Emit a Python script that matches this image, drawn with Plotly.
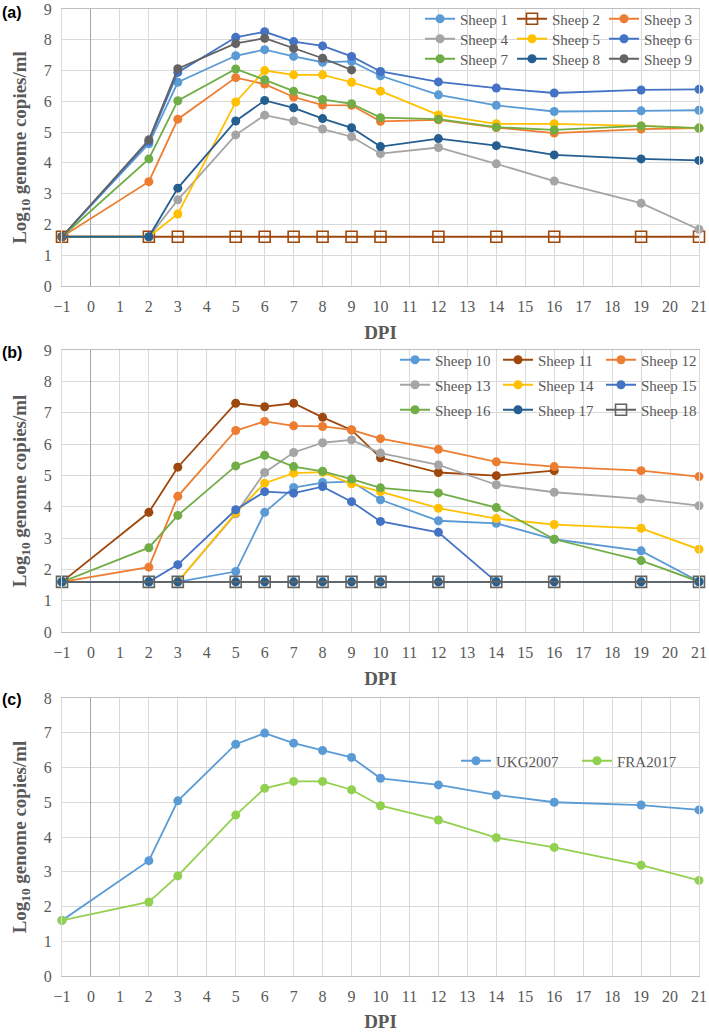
import plotly.graph_objects as go

# ---------------- data ----------------
DPI = [-1, 2, 3, 5, 6, 7, 8, 9, 10, 12, 14, 16, 19, 21]
x_ticks = list(range(-1, 22))
x_ticklabels = ["\u22121"] + [str(v) for v in range(0, 22)]

# panel (a)
sheep1 = [1.6, 4.62, 6.62, 7.48, 7.68, 7.46, 7.27, 7.30, 6.83, 6.21, 5.87, 5.67, 5.69, 5.71]
sheep2 = [1.6, 1.6, 1.6, 1.6, 1.6, 1.6, 1.6, 1.6, 1.6, 1.6, 1.6, 1.6, 1.6, 1.6]
sheep3 = [1.6, 3.39, 5.42, 6.77, 6.56, 6.14, 5.88, 5.87, 5.35, 5.40, 5.15, 4.97, 5.10, 5.13]
sheep4 = [1.6, 1.6, 2.80, 4.91, 5.55, 5.36, 5.10, 4.85, 4.30, 4.50, 3.97, 3.41, 2.69, 1.84]
sheep5 = [1.6, 1.6, 2.34, 5.98, 7.00, 6.86, 6.86, 6.62, 6.33, 5.56, 5.27, 5.27, 5.20, 5.13]
sheep6 = [1.6, 4.70, 6.94, 8.08, 8.26, 7.94, 7.80, 7.46, 6.97, 6.63, 6.43, 6.27, 6.37, 6.39]
sheep7 = [1.6, 4.13, 6.02, 7.05, 6.70, 6.33, 6.06, 5.92, 5.47, 5.42, 5.16, 5.07, 5.20, 5.13]
sheep8 = [1.6, 1.6, 3.18, 5.36, 6.03, 5.79, 5.44, 5.14, 4.53, 4.79, 4.56, 4.26, 4.13, 4.08]
sheep9 = [1.6, 4.75, 7.06, 7.88, 8.05, 7.72, 7.40, 7.02]

# panel (b)
sheep10 = [1.6, 1.6, 1.6, 1.93, 3.82, 4.61, 4.77, 4.80, 4.22, 3.55, 3.47, 2.96, 2.59, 1.61]
sheep11 = [1.6, 3.82, 5.26, 7.30, 7.19, 7.30, 6.85, 6.45, 5.56, 5.09, 4.99, 5.15]
sheep12 = [1.6, 2.07, 4.33, 6.43, 6.72, 6.58, 6.56, 6.45, 6.17, 5.83, 5.43, 5.28, 5.15, 4.96]
sheep13 = [1.6, 1.6, 1.6, 3.77, 5.09, 5.73, 6.04, 6.13, 5.71, 5.33, 4.70, 4.46, 4.25, 4.03]
sheep14 = [1.6, 1.6, 1.6, 3.80, 4.75, 5.07, 5.10, 4.73, 4.48, 3.95, 3.62, 3.43, 3.31, 2.64]
sheep15 = [1.6, 1.6, 2.15, 3.90, 4.48, 4.43, 4.64, 4.16, 3.53, 3.18, 1.6]
sheep16 = [1.6, 2.69, 3.72, 5.30, 5.64, 5.28, 5.13, 4.88, 4.60, 4.44, 3.97, 2.96, 2.28, 1.61]
sheep17 = [1.6, 1.6, 1.6, 1.6, 1.6, 1.6, 1.6, 1.6, 1.6, 1.6, 1.6, 1.6, 1.6, 1.6]
sheep18 = [1.6, 1.6, 1.6, 1.6, 1.6, 1.6, 1.6, 1.6, 1.6, 1.6, 1.6, 1.6, 1.6, 1.6]

# panel (c)
ukg2007 = [1.6, 3.32, 5.04, 6.67, 6.99, 6.70, 6.49, 6.29, 5.69, 5.50, 5.21, 5.00, 4.92, 4.78]
fra2017 = [1.6, 2.13, 2.88, 4.63, 5.40, 5.60, 5.60, 5.36, 4.90, 4.49, 3.98, 3.70, 3.19, 2.75]

# ---------------- styling ----------------
W, H = 709, 1032
ML, MR, MT, MB = 62, 10, 9, 56
PW = W - ML - MR
PH = H - MT - MB

def py(pix):  # pixel y (from top) -> paper y
    return (H - MB - pix) / PH

def px(pix):  # pixel x -> paper x
    return (pix - ML) / PW

SERIF = "Liberation Serif"
GRAY_TXT = "#595959"
GRID = "#D9D9D9"

fig = go.Figure()

def add(name, y, color, xaxis, yaxis, legend, square=False):
    xs = DPI[:len(y)]
    if square:
        marker = dict(symbol="square-open", size=11, color=color, line=dict(width=1.6, color=color))
    else:
        marker = dict(symbol="circle", size=9, color=color)
    fig.add_trace(go.Scatter(
        x=xs, y=y, name=name, mode="lines+markers",
        line=dict(color=color, width=1.8), marker=marker,
        xaxis=xaxis, yaxis=yaxis, legend=legend, cliponaxis=False,
    ))

# panel (a)
add("Sheep 1", sheep1, "#5B9BD5", "x", "y", "legend")
add("Sheep 2", sheep2, "#9E480E", "x", "y", "legend", square=True)
add("Sheep 3", sheep3, "#ED7D31", "x", "y", "legend")
add("Sheep 4", sheep4, "#A5A5A5", "x", "y", "legend2")
add("Sheep 5", sheep5, "#FFC000", "x", "y", "legend2")
add("Sheep 6", sheep6, "#4472C4", "x", "y", "legend2")
add("Sheep 7", sheep7, "#70AD47", "x", "y", "legend3")
add("Sheep 8", sheep8, "#255E91", "x", "y", "legend3")
add("Sheep 9", sheep9, "#636363", "x", "y", "legend3")

# panel (b)
add("Sheep 10", sheep10, "#5B9BD5", "x2", "y2", "legend4")
add("Sheep 11", sheep11, "#9E480E", "x2", "y2", "legend4")
add("Sheep 12", sheep12, "#ED7D31", "x2", "y2", "legend4")
add("Sheep 13", sheep13, "#A5A5A5", "x2", "y2", "legend5")
add("Sheep 14", sheep14, "#FFC000", "x2", "y2", "legend5")
add("Sheep 15", sheep15, "#4472C4", "x2", "y2", "legend5")
add("Sheep 16", sheep16, "#70AD47", "x2", "y2", "legend6")
add("Sheep 17", sheep17, "#255E91", "x2", "y2", "legend6")
add("Sheep 18", sheep18, "#636363", "x2", "y2", "legend6", square=True)

# panel (c)
add("UKG2007", ukg2007, "#5B9BD5", "x3", "y3", "legend7")
add("FRA2017", fra2017, "#92D050", "x3", "y3", "legend7")

def tfont():
    return dict(family=SERIF, size=16, color=GRAY_TXT)

def hfont():
    return dict(family=SERIF, size=19, color=GRAY_TXT)

def xaxis(anchor):
    return dict(
        range=[-1, 21], tickmode="array", tickvals=x_ticks, ticktext=x_ticklabels,
        showgrid=True, gridcolor=GRID, gridwidth=1,
        zeroline=True, zerolinecolor="#A6A6A6", zerolinewidth=1.3,
        showline=True, linecolor="#BFBFBF", linewidth=1, mirror=True,
        tickfont=tfont(), ticks="", ticklabelstandoff=6, ticklabeloverflow="allow",
        anchor=anchor, domain=[0, 1], automargin=False,
        title=dict(text="<b>DPI</b>", font=hfont(), standoff=11),
        fixedrange=True,
    )

def yaxis(anchor, top, bottom, ymax):
    return dict(
        range=[0, ymax], dtick=1, domain=[py(bottom), py(top)],
        showgrid=True, gridcolor=GRID, gridwidth=1, zeroline=False,
        showline=True, linecolor=GRID, linewidth=1, mirror=True,
        tickfont=tfont(), ticks="", ticklabelstandoff=6, anchor=anchor,
        automargin=False,
        title=dict(text="<b>Log<sub>10</sub> genome copies/ml</b>", font=hfont(), standoff=12),
        fixedrange=True,
    )

def legend(xpix, ypix, ew):
    return dict(
        orientation="h", x=px(xpix), y=py(ypix), xanchor="left", yanchor="middle",
        xref="paper", yref="paper",
        entrywidth=ew, entrywidthmode="pixels",
        bgcolor="rgba(0,0,0,0)", font=dict(family=SERIF, size=15, color=GRAY_TXT),
        itemsizing="trace", tracegroupgap=0, borderwidth=0,
    )

fig.update_layout(
    width=W, height=H,
    margin=dict(l=ML, r=MR, t=MT, b=MB, autoexpand=False),
    paper_bgcolor="white", plot_bgcolor="white",
    xaxis=xaxis("y"), yaxis=yaxis("x", 9, 286, 9),
    xaxis2=xaxis("y2"), yaxis2=yaxis("x2", 350, 632, 9),
    xaxis3=xaxis("y3"), yaxis3=yaxis("x3", 698, 976, 8),
    legend=legend(420, 19, 47),
    legend2=legend(420, 39, 47),
    legend3=legend(420, 59, 47),
    legend4=legend(395, 360, 58),
    legend5=legend(395, 385, 58),
    legend6=legend(395, 410, 58),
    legend7=legend(456, 761, 76),
    showlegend=True,
)

for lab, ypix in [("(a)", 12), ("(b)", 352), ("(c)", 699)]:
    fig.add_annotation(
        text="<b>" + lab + "</b>", xref="paper", yref="paper",
        x=px(0), y=py(ypix), xanchor="left", yanchor="middle", showarrow=False,
        font=dict(family="Liberation Sans", size=16, color="black"),
    )

fig.write_html(
    "out.html",
    config={"displayModeBar": False},
    post_script="document.body.style.margin='0';document.body.style.padding='0';",
)
